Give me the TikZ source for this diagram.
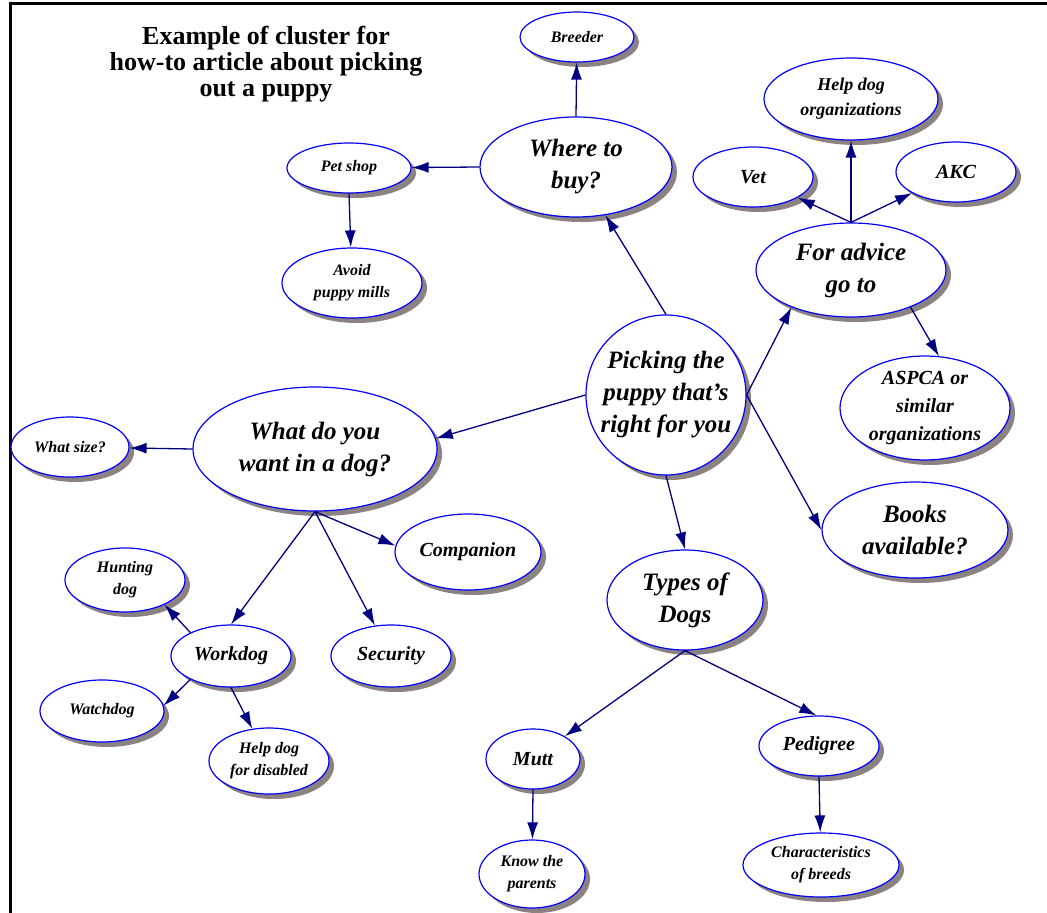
\documentclass[tikz,border=0pt]{standalone}
\usepackage{fontspec}
\setmainfont{Liberation Serif}
\usetikzlibrary{shapes.geometric,shadows,arrows.meta}
\definecolor{shadowgray}{RGB}{140,130,130}
\definecolor{linknavy}{RGB}{0,0,128}
\tikzstyle{bubble}=[ellipse,draw=blue,fill=white,line width=1.2pt,inner sep=0pt,align=center,
  drop shadow={shadow xshift=5pt,shadow yshift=-5pt,fill=shadowgray,opacity=1}]
\tikzstyle{smallb}=[bubble,font=\bfseries\itshape\fontsize{16}{22}\selectfont]
\tikzstyle{midb}=[bubble,font=\bfseries\itshape\fontsize{20}{28}\selectfont]
\tikzstyle{bigb}=[bubble,font=\bfseries\itshape\fontsize{25}{32}\selectfont]
\tikzstyle{link}=[draw=linknavy,line width=1.3pt,-{Latex[length=17pt,width=11pt]}]

\begin{document}
\begin{tikzpicture}[x=1pt,y=-1pt]
    \useasboundingbox (0,0) rectangle (1047,913);
    \draw[line width=3pt] (10,913) -- (10,3) -- (1047,3);
    \node[align=center,font=\bfseries\fontsize{26}{26}\selectfont] (title) at (266,64)
      {Example of cluster for\\how-to article about picking\\out a puppy};

    \node[bigb,circle,minimum size=160pt] (pick) at (666,395) {Picking the\\puppy that's\\right for you};
    \node[bigb,minimum width=192pt,minimum height=100pt] (where) at (576,167) {Where to\\buy?};
    \node[smallb,minimum width=114pt,minimum height=50pt] (breeder) at (577,37) {Breeder};
    \node[smallb,minimum width=124pt,minimum height=50pt] (petshop) at (349,168) {Pet shop};
    \node[smallb,minimum width=140pt,minimum height=70pt] (avoid) at (352,283) {Avoid\\puppy mills};
    \node[bigb,minimum width=190pt,minimum height=94pt] (advice) at (851,270) {For advice\\go to};
    \node[bubble,minimum width=174pt,minimum height=82pt,font=\bfseries\itshape\fontsize{18}{25}\selectfont] (helporg) at (851,99) {Help dog\\organizations};
    \node[midb,minimum width=120pt,minimum height=60pt] (vet) at (753,177) {Vet};
    \node[midb,minimum width=120pt,minimum height=60pt] (akc) at (956,172) {AKC};
    \node[midb,minimum width=170pt,minimum height=102pt] (aspca) at (925,408) {ASPCA or\\similar\\organizations};
    \node[bigb,minimum width=186pt,minimum height=96pt] (books) at (915,530) {Books\\available?};
    \node[bigb,minimum width=244pt,minimum height=124pt] (want) at (315,449) {What do you\\want in a dog?};
    \node[smallb,minimum width=118pt,minimum height=60pt] (size) at (70,447) {What size?};
    \node[midb,minimum width=146pt,minimum height=76pt] (companion) at (468,552) {Companion};
    \node[midb,minimum width=120pt,minimum height=62pt] (security) at (391,656) {Security};
    \node[midb,minimum width=120pt,minimum height=62pt] (workdog) at (231,656) {Workdog};
    \node[smallb,minimum width=120pt,minimum height=64pt] (hunting) at (125,580) {Hunting\\dog};
    \node[smallb,minimum width=124pt,minimum height=62pt] (watchdog) at (102,711) {Watchdog};
    \node[smallb,minimum width=120pt,minimum height=66pt] (disabled) at (269,761) {Help dog\\for disabled};
    \node[bigb,minimum width=156pt,minimum height=100pt] (types) at (685,600) {Types of\\Dogs};
    \node[midb,minimum width=94pt,minimum height=60pt] (mutt) at (533,759) {Mutt};
    \node[midb,minimum width=120pt,minimum height=60pt] (pedigree) at (819,746) {Pedigree};
    \node[smallb,minimum width=106pt,minimum height=68pt] (parents) at (532,874) {Know the\\parents};
    \node[smallb,minimum width=156pt,minimum height=64pt] (breeds) at (821,865) {Characteristics\\of breeds};

    \foreach \from/\to in {pick.north/where,where.west/petshop,where.north/breeder,petshop.south/avoid,
      pick.east/advice.212,advice.north/vet,advice.north/helporg,advice.north/akc,advice.-32/aspca.75,
      pick.east/books.west,pick.west/want.5,pick.south/types.north,want.west/size,
      want.south/companion.175,want.south/security,want.south/workdog.north,
      workdog.150/hunting.-32,workdog.-150/watchdog.5,workdog.south/disabled,
      types.south/mutt,types.south/pedigree.95,mutt.south/parents,pedigree.south/breeds}
    \draw[link] (\from) -- (\to);
\end{tikzpicture}
\end{document}
